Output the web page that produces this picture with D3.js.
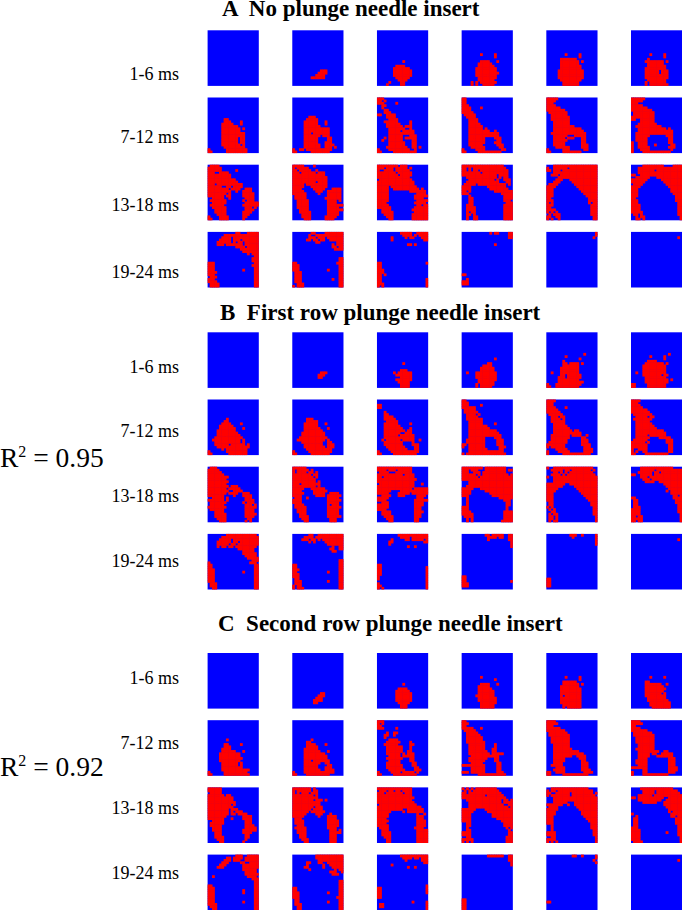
<!DOCTYPE html>
<html>
<head>
<meta charset="utf-8">
<script src="https://cdn.jsdelivr.net/npm/d3@7"></script>
<style>
  html, body { margin: 0; padding: 0; background: #fff; }
  svg { display: block; }
  text { font-family: "Liberation Serif", serif; fill: #000; white-space: pre; }
</style>
</head>
<body>
<svg id="chart" width="682" height="910"></svg>
<script>
// red cells of each map, "row:from-to,from-to" on a 22 x 24 grid, rows left out are all blue
var panelTitles = ["A  No plunge needle insert", "B  First row plunge needle insert", "C  Second row plunge needle insert"];
var timeLabels = ["1-6 ms", "7-12 ms", "13-18 ms", "19-24 ms"];
var fits = [null, "0.95", "0.92"];
var columns = d3.range(22);
var rows = d3.range(24);

var panelA = [
  "",
  "17:12-14 18:11-14 19:10-13 20:8-13",
  "13:11 15:8-11 16:7-13 17:7-14 18:7-14 19:7-14 20:8-13 21:9-12 22:5,10-11 23:4,10-11",
  "10:8,14 11:14 13:8-11,15 14:7-12 15:7-13 16:6-14 17:6-14 18:6-15 19:6-14 20:7-14 21:7-13 22:4,6,8-14 23:4,6,9-13",
  "10:8,14 11:14 12:6-12 13:6-13,15 14:6-13 15:6-14 16:6-14 17:5-15 18:5-15 19:5-15 20:5-15 21:6-14 22:7-13 23:7-13",
  "10:8,14 11:14 12:7 13:6-13,15 14:7-13 15:7-14 16:6-14 17:6-11,13-15 18:6-11,13-15 19:6-15 20:6-15 21:7-14 22:6,8-14 23:6,8-15",
  "9:7-8 10:7-9,14 11:6-10,14 12:6-12 13:6-13,15 14:6-13 15:6-15 16:6-15 17:6-12,14-15 18:6-12,14-15 19:6-12,14-15 20:6-13,15 21:7-15 22:0,8-16 23:0-1,8-16",
  "8:7-9 9:6-10 10:5-10,14 11:5-10,14 12:5-11 13:5-15 14:5-15 15:5-7,9-15 16:5-11,13-15 17:5-10,15-16 18:5-10,15-16 19:5-10,14-16 20:5-11,14-17 21:5-11,14-16,18 22:0,3-4,6-16 23:0-1,8-15",
  "0:0-2 1:0-1,3 2:0-2,8 3:2-3 4:2 5:3-4 6:3-5 7:0-1,4-7 8:4-7 9:5-8 10:3-8,14 11:4-9,14 12:4-10,12-14 13:5-11,14 14:5-9,11-15 15:5-15 16:5-10,14-16 17:3,5-10,12-16 18:2,5-10,15-16 19:5-11,15-16 20:5-11,15-16 21:4-12,15-16,18 22:0,5-13,16 23:0-1,7-16",
  "0:0-1 1:0-1 2:0-1 3:0-2 4:0-3,8 5:0-3 6:0-4 7:1-5 8:2-5 9:3-6 10:3-6 11:3-7 12:3-8 13:3-8,10 14:3-11,14 15:3-15 16:3-15 17:3-9,14-16 18:3-9,15-16 19:3-9,14-16 20:3-8,15-17 21:4-9,16-17 22:0,6-9,17-18 23:0-1,7-16",
  "0:0-4 1:0-3 2:0-2 3:0-3 4:0-5 5:0-7 6:1-8 7:2-8 8:2-9 9:2-9 10:3-9 11:3-9 12:3-11 13:3-14 14:3-15 15:2-16 16:3-8,12-16 17:3-7,9-11,15-16 18:3-8,15-16 19:3-7,15-16 20:3-7,15-17 21:4-9,15-17 22:0,7-9,16-17 23:0-1,7-14",
  "0:0-5 1:0-4 2:0-2 3:0-4 4:0-6 5:0-8 6:1-9 7:1-9 8:0-2,3-9 9:0-1,4-9 10:4-9 11:3-10 12:2-12 13:3-14,16 14:3-17 15:2-8,9-17 16:2-7,15-17 17:2-6,16-17 18:2-6,16-17 19:0,3-6,16-17 20:0,3-6,10,17-18 21:0,3-7,16-18 22:0,4-7,17 23:0,5-16",
  "0:1-4 1:0-5 2:0-5,12 3:0-2,5-8 4:0-9 5:0-9 6:0-11 7:0-12 8:0-2,4-14 9:0-5,8-9,11-14 10:0-8,10-13,16-18 11:0-9,12,15-18 12:0-7,9,15-19 13:0-6,8-9,15-19 14:2-6,9,16-19 15:1-7,15,17-19 16:2-7,16-21 17:1-6,15-21 18:2-7,16-18,20 19:3-7,16-19 20:3-7,15-18 21:4-7,15-17 22:0,5-8,15-16 23:0-1,5-8,15",
  "0:0-4,9 1:0,2-6 2:0-1,3-7,10 3:0-2,4-9,11-13 4:0-13 5:0-14 6:0-14 7:0-9,11-14 8:0-4,6-14 9:0-4,8-14 10:0-3,9-13,17-20 11:0-4,10-12,15-20 12:0-5,11,15-20 13:1-5,15-20 14:1-5,14-20 15:2-6,15-18,20 16:2-6,15-18 17:2-6,15-21 18:2-6,15-19 19:3-6,15-21 20:3-7,15-19 21:4-7,15-19 22:4-7,14-18 23:5-7,14-17",
  "0:0-8,10-12 1:0-2,4-6,8-12,14 2:0,3-6,8-13 3:0-7,9-14 4:0-8,10-14 5:0-13 6:1-14 7:0-15 8:0-15 9:0-4,6-16 10:0-4,7-17,19 11:0-4,14-20 12:0-4,17-20 13:0-4,16-21 14:0-4,16-19 15:0-4,17-21 16:0-3,16-20 17:0-4,17-18,20-21 18:0-5,16-21 19:2-5,15-21 20:2-6,16-21 21:3-6,15-21 22:4-6,15-21 23:5-6,15-21",
  "0:0-17 1:0-1,3,5-18 2:0-1,3,5-6,8-19 3:0-7,9-19 4:0-14,16-19 5:2-14,16,18-19 6:3-13,15,18-20 7:2-15,19-20 8:1-5,7-18,20 9:0-3,11-18 10:0-3,12-19 11:0-1,3,14-21 12:0-2,17-21 13:3,18-21 14:3-4,18-21 15:3-4,18-20 16:3-4,19-21 17:2-4,18-21 18:2-5,18-21 19:2-5,18-21 20:2,4-5,18-21 21:2-3,5,18-21 22:2,5-6,18-21 23:2,5-6,18-21",
  "0:3-21 1:0,3-8,10-21 2:0-1,3-5,7-21 3:3-21 4:2-4,6-21 5:5-21 6:4-6,10-21 7:3-5,11-21 8:1-4,12-21 9:0-3,13-21 10:0-2,14-21 11:0-2,15-21 12:0-2,16-21 13:0-2,17-21 14:0-1,18-21 15:0-2,18-21 16:0,2,18,20-21 17:0-2,19-21 18:0-1,19-21 19:0-3,19-21 20:0,2,4,19-21 21:1,3-5,19-21 22:0-1,4-5,20-21 23:0,2,5,20-21",
  "0:5-13,18-21 1:3-21 2:3-9,11-21 3:3-21 4:0-1,4-21 5:2-7,11-21 6:0-6,13-21 7:0-5,14-21 8:1-4,15-21 9:0-3,16-21 10:0-2,17-21 11:0-2,17-21 12:0-2,18-21 13:0-2,19-21 14:0-1,19-21 15:0-2,19-21 16:0-2,20-21 17:0-3,20-21 18:0-3,20-21 19:0-3,20-21 20:0-4,20-21 21:1-2,4,20-21 22:2,4-5,21 23:2-3,5,21",
  "0:12-13,17-21 1:7-21 2:6-9,11-21 3:5-9,11-13,15-21 4:4-9,11,13-14,16-21 5:4-6,8-14,16-21 6:12-15,17-21 7:14-21 8:15-21 9:17,19-21 10:20-21 11:19-21 12:19-21 13:0-2,20-21 14:0-2,19-21 15:0-2,20-21 16:0-2,15,20-21 17:0-3,20-21 18:0-2,20-21 19:1-3,20-21 20:0-2,20-21 21:0-3,20-21 22:1-4,20-21 23:1-4,20-21",
  "0:8-9,14-21 1:7,10-21 2:7-9,11-13,15-21 3:6-7,9-10,12-13,16-21 4:10-11,19-21 5:17,19-21 6:17-18,20-21 7:18-19,20-21 11:20-21 12:20-21 13:0-1,19-21 14:0-2,20-21 15:0-2,20-21 16:0-2,15,20-21 17:1-3,20-21 18:1-3,20-21 19:1-3,20-21 20:1-3,17,20-21 21:1-3,20-21 22:2-4,20-21 23:0,2-4,20-21",
  "0:10-14,17-21 1:11-14,16,18-21 2:6,12,14-15,19-21 3:6,20-21 5:13-14,16 13:0-1,21 14:0-1 15:0-1 16:0-2 17:0-2 18:0-1,3 19:0-1 20:0-1,21 21:0-1,21 22:0-2,21 23:0,2,21",
  "0:12,14-15,20-21 1:20-21 2:20-21 5:14 18:0-1 20:2 21:0-2 22:0-2",
  "0:21 1:21 2:20",
  "2:20"
];

var panelB = [
  "",
  "17:12-14 18:11-13 19:11-12",
  "13:11 16:10-12 17:7,9-14 18:8-14 19:10-14 20:8-14 21:9-13 22:10-13 23:10-13",
  "11:14 13:11-12 14:9-12 15:8-13 16:8-13 17:2,6-14 18:6-14 19:6-14 20:7-14 21:7-13 22:6,8-13 23:6,8-12",
  "9:16 10:8 11:14 12:7 13:7-8,10-13,15 14:7-13 15:6-13 16:6-13 17:2,6-13 18:6-7,9-14 19:5-7,9-14 20:5-13 21:5-15 22:0,4-14 23:0-1,4-13",
  "9:16 10:8,14 11:14 12:7-10 13:6-13,15 14:5-14 15:5-14 16:5-14 17:2,5-14 18:5-12,14-15 19:6-14 20:6-15,17 21:6-15 22:0-1,7-14 23:0-1,7-14",
  "8:8 9:7-8 10:6-9,14 11:5-10 12:5-11,15 13:4-11 14:4-12 15:4-13 16:3-14 17:2-13,15 18:3-13,15 19:3-8,10-15,17 20:4-17 21:6,8-16 22:0,8-16 23:0-1,9-16",
  "8:6-8 9:6-10 10:5-10,14 11:5-10 12:5-11,15 13:5-12 14:4-13 15:4-13 16:3-14 17:2-13,15 18:4-12,15-16 19:5-12,15-17 20:5-13,15-17 21:6-16 22:0,7-16 23:0-1,8-15",
  "2:0-1 3:0-1 5:3 6:3-4 7:3-6 8:3-7 9:4-8 10:3-8,14 11:3-9 12:3-10,14 13:3-11,13-14 14:3-9,12-14 15:3-8,10-15 16:3-15 17:2,4-9,11-15,18 18:3-10,15 19:3-10,15-17 20:4-11,16-17 21:5-12,16-17 22:0,6-17 23:0-1,7-16",
  "0:0-1 1:0-2 2:0-2,8 3:0-5 4:1-5 5:1-6 6:2-5,7 7:2-6 8:2-8 9:3-8 10:3-8,14 11:3-10 12:3-11 13:3-14 14:3-15 15:3-16 16:3-9,14-16 17:2-9,15-17 18:2-9,15-17 19:0-1,3-9,15-17 20:0,3-9,16-18 21:3-10,16-17 22:3-17 23:0,2-18",
  "0:0-3 1:0-2 2:0-2 3:0-3,8 4:0-4 5:0-5 6:1-6 7:2-4,6-7 8:2-5,7 9:2-7 10:3-7 11:3-8 12:3-9 13:3-10,12-13 14:3-14 15:2-9,11-14,17 16:2-9,15-16 17:2-8,15-17 18:1-8,15-17 19:0-7,15-18 20:0,2-7,16-18 21:4-8,16-19 22:0,5-9,16-19 23:0,7-18",
  "0:0-3 1:0-2 2:0-3 3:0-4 4:0-6 5:0-7 6:1-8 7:2-6,8-9 8:1-8 9:2-7 10:2-8 11:2-9 12:2-10 13:2-13 14:2-14 15:2-6,8-14 16:2-7,12-16 17:1-6,15-17 18:0-5,7,15-17 19:0-6,16-17 20:0-6,16-17 21:0,3-6,16-17 22:0,2,5-6,16-17 23:0-1,6-15",
  "0:1-3 1:0-4 2:0-5 3:0-6 4:0-8 5:0-7 6:0-8 7:0-7 8:0-8,10-12 9:0-7,9-13 10:0-8,11-14 11:0-7,9-12,15-17 12:0-6,11,15-18 13:2-6,8,16-18 14:0-6,8,16-19 15:1-7,15,17-19 16:1-6,16-18,20 17:0-7,16-20 18:1-6,16-19 19:3-6,16-19 20:3-7,16-20 21:3-7,16-19 22:4-7,17-18 23:5-7,16,18",
  "0:0-5 1:0,2-6,8 2:0,2-5,7-8,10 3:0-7,9-10 4:0-8,10 5:0-9 6:0-9,11 7:0-2,4-11 8:0-9,11 9:0-4,8-13 10:0-3,9-14 11:0-4,9-13,16-19 12:0-3,10-13,15-20 13:1-3,6,15-19 14:0-3,15-20 15:0-3,15-19 16:1-4,15,17-19 17:1-5,15-20 18:2-5,15-19 19:2-5,15-19 20:3-5,15-19 21:3-6,15-20 22:4-6,16-18 23:5-6,16-18",
  "0:0-14 1:0-3,5-7,9-14 2:1-4,8-14 3:0-10,12-15 4:0-1,3-15 5:0-16 6:0-15 7:1-15,19 8:0-15 9:0-14,16-21 10:0-5,10-21 11:0-4,9-13,15-21 12:2-5,9-11,17-20 13:0-4,17-19 14:0-3,16-21 15:2-4,16-19 16:0-4,16-19 17:0-4,16-18 18:0-3,16-18 19:2-5,16-19 20:2-5,16-18 21:3-6,16-18 22:4-6,16-17 23:5-6,16-17",
  "0:0-8,10-18 1:0-2,4-6,10-18,20-21 2:0-2,5-7,9-18 3:0-5,7,9-19,21 4:0-6,8-21 5:0-21 6:3-21 7:3-21 8:2-21 9:0-4,8-21 10:0-3,10-21 11:0-3,12-21 12:0-2,13-21 13:2,16-21 14:2,18-20 15:2,19-20 16:2,19-20 17:0-2,19 18:0-2,19 19:0-3,18-21 20:0-4,18-21 21:1-4,18-21 22:2,4,18-21 23:2,4,17-21",
  "0:0,3-19 1:2-6,8-9,11-18,20 2:3-4,6,8,10-19 3:2-5,7,9-20 4:0,3-21 5:3-21 6:3-21 7:0-7,10-21 8:0-6,12-21 9:0-4,13-21 10:0-3,14-21 11:0-2,15-21 12:0-2,16-21 13:0-2,17-21 14:0-2,18-21 15:1-2,19-21 16:1-2,19-21 17:0,2,20-21 18:1,3,20-21 19:2-3,20-21 20:1,3-4,20-21 21:1-2,4,21 22:1-2,4,21 23:1,3-4,21",
  "0:4-17 1:4-9,11-21 2:3-8,10-11,13-21 3:0-1,4-8,10-21 4:4-6,8-21 5:5-7,9-21 6:6-9,12-21 7:14-21 8:15-21 9:16-21 10:15,17-21 11:17-21 12:18-19,21 13:0-1,18-21 14:1-2,19-21 15:1-2,19-21 16:1-2,20-21 17:1-3,20-21 18:0-3,20-21 19:0-3,20-21 20:0-3,21 21:0-1,3-4,21 22:0-4,21 23:0-1,3-4,21",
  "0:8-20 1:6-21 2:5-9,11-21 3:4-9,11-12,14-21 4:4-8,10-11,13-21 5:4,6-7,9-10,12-20 6:13-19 7:15-19 8:15-20 9:16-20 10:17-21 11:19-21 12:0,18-20 13:0-1,20-21 14:0-1,20-21 15:0-2,20-21 16:0-2,15,20-21 17:0-2,20-21 18:0-2,20-21 19:0-2,20-21 20:0-2,20-21 21:1-3,20-21 22:1-3,20-21 23:2-3,20-21",
  "0:7-8,11-21 1:5-8,10-21 2:4-6,8-9,11,13-21 3:7,9,14-21 4:15-21 5:17,20-21 6:16-17,20-21 7:17-18 11:20-21 12:20-21 13:0-1,20-21 14:0-1,20-21 15:0-2,20-21 16:0-1,15,20-21 17:0-2,20-21 18:0-2,20-21 19:1-2,20-21 20:1-3,15,20-21 21:1-3,20-21 22:0,2-3,20-21 23:0,2-4,20-21",
  "0:9-21 1:10-13,15-21 2:6,12-13,15-19,21 3:5-6,20-21 4:5 5:13,16 13:0-1 14:0-1,21 15:0-1,21 16:0-1,21 17:0-1,21 18:0,21 19:0,21 20:21 21:0,21 22:0-1,21 23:0,2,21",
  "0:10-11,13-17,20-21 1:11-14,16-17,20-21 2:11,20-21 3:21 4:21 5:21 18:0-1 19:0-1 20:0-1,21 21:0-2 22:0-2",
  "0:10-12,15,21 1:11,21 2:21 3:21 4:21 19:0-1 20:0-1 21:0-1 22:0-1",
  "2:20"
];

var panelC = [
  "",
  "17:12-13 18:11-13 19:10-12 20:9-12 21:9-10",
  "13:11 15:9-12 16:8-13 17:8-14 18:8-14 19:8-14 20:8-14 21:9-13 22:10-12 23:10-12",
  "10:8 11:14 13:8-11,15 14:7-11 15:7-12 16:7-13 17:7-13 18:6-13 19:7-14 20:7-14 21:8-14 22:8-13 23:8-13",
  "10:8,14 11:14 12:7-12 13:7-13,15 14:6-13 15:6-14 16:6-14 17:6-14 18:6,8-14 19:6-14 20:6-14 21:6-14 22:7-14 23:7,9-14",
  "10:8,14 12:6-7 13:6-12,15 14:6-13 15:6-14 16:6-13 17:6-12,14 18:6-14 19:7-14 20:7-15 21:8-16 22:8-16 23:9-16",
  "8:8 10:7-8,14 11:7-9 12:6-9 13:6-11,15 14:5-13 15:5-13 16:5-14 17:5-13 18:6-12,14 19:6-12,14 20:6-14 21:6-17 22:0,7-16 23:0-1,7-17",
  "8:8 9:6-7 10:6-9,14 11:6-10 12:5-10 13:5-11,15 14:5-13 15:5-14 16:5-14 17:5-7,9-15 18:5-11,14-15 19:5-10,15-16 20:5-10,14-16 21:5-11,14-17 22:0,5-17 23:0-1,6-15",
  "0:0-2 1:0,2 2:0-1 3:0-2,8 5:4,7-8 6:3-4,7 7:3 8:5-8 9:4-9,14 10:3-8,14-15 11:4-10,14 12:4-10,14 13:4-10,13-14 14:4-9,11,13-15 15:5-9,11-15 16:4-10,14-15 17:5-9,14-15 18:4-9,15-16 19:4-10,15-16 20:4-10,16-17 21:5-11,16-18 22:0,6-9,11-15,17 23:0-1,7-16",
  "0:0-1 1:0-2 2:0-1 3:0-4,8 4:1-5 5:2-6 6:2-7 7:2-8 8:2-8 9:2-9 10:3-9,14 11:3-9,14 12:3-9,13-14 13:3-10,13-14 14:3-11,13-17 15:4-15 16:3-10,14-15 17:3-9,14-15 18:4-8,15-16 19:0-2,3-9,15-16 20:4-9,15-16 21:4-9,15-16 22:0-2,4-9,15-17 23:7-18",
  "0:0-3 1:0-4 2:0-2 3:0-5 4:0-7 5:1-8 6:1-9 7:2-9 8:2-9 9:2-9 10:3-9 11:3-9 12:3-10 13:3-13 14:3-15 15:3-10,13-16 16:3-7,14-16 17:3-7,15-16 18:3-6,15-17 19:2-6,15-17 20:4-7,15-17 21:3-7,15-18 22:0-1,4-7,16-19 23:0-1,7-17",
  "0:0-3 1:0-4 2:0-1 3:0-3 4:0-6 5:1-8 6:1-9 7:2-9 8:2-9 9:2-9 10:3-9 11:3-9 12:2-9 13:3-11,14-15 14:3-7,9-10,13-17 15:3-7,11-17 16:3-6,16-18 17:2-6,16-18 18:2-6,16-18 19:3-6,16-18 20:0-6,16-19 21:5-6,16-19 22:0,5-6,16-18 23:0,5-15",
  "0:0-5 1:0-5 2:1-5 3:0-6,8-9 4:0-10 5:0-10 6:0-11 7:0-9,11 8:0-10 9:0-8,10-12 10:0-8,10,12-14 11:0-8,10-11,13-16 12:0-7,15-18 13:0-6,10,15-18 14:2-6,16-18 15:1-6,16-18 16:1-5,16-19 17:2-5,16-20 18:2-5,15-20 19:3-5,15-18 20:3-5,16-17 21:3-6,16-17 22:4-6,16 23:5-6,15",
  "0:0-7,9 1:0,2-7,9-10 2:0,2,4-6,8-10 3:0-8,10 4:0-10 5:0-8,10-12,14 6:0-11 7:0-11 8:0-8,10-12 9:0-7,9-12 10:0-6,8-13 11:0-5,10-12,16 12:0-4,11,15-18 13:1-3,15-18 14:1-4,15-19 15:1-4,15-19 16:2-4,15-19 17:1-5,15-18 18:2-5,16-18,20 19:2-5,16-20 20:3-5,16-18 21:3-5,16-18 22:4-6,16-18 23:5-6,16-18",
  "0:0-14 1:1-3,5-6,8-9,11-14 2:0-2,4-10,12-14 3:0-14 4:0-15 5:0-14 6:0-15 7:1-16 8:0-18 9:0-10,13-19 10:0-5,11,13-19 11:0-4,17,20 12:0-4,17-19 13:0-3,17-19 14:0-4,17-20 15:0-3,17-20 16:0-4,17-20 17:1-4,16-19 18:2-4,17-21 19:2-5,17-21 20:2-5,17-21 21:3-5,17-21 22:4-5,17-21 23:4-5,17-21",
  "0:0,2,4,6-14 1:1,3,5-15 2:0-1,3-16 3:0-9,11-17 4:0-18 5:2-16,18-19,21 6:3-16,18-21 7:3-17,20-21 8:3-19,21 9:0-5,10-21 10:0-4,11-21 11:0-3,13-21 12:0-3,13-21 13:0-3,15-21 14:0-3,17-21 15:2-3,18-21 16:2-3,18-21 17:2,19,21 18:2-3,20 19:0-3,20-21 20:0-3,20-21 21:2-3,19-21 22:0-4,19-21 23:0,2,4,19-21",
  "0:2-17 1:0,2-3,5-19 2:0-1,4-9,11-19,21 3:0,2-9,11-20 4:3-21 5:3-21 6:3-8,12-21 7:0-6,9,12-21 8:1-4,13-21 9:0-4,14-21 10:0-3,15-21 11:0-3,15-21 12:0-2,16-21 13:0-2,17-21 14:0-2,18-21 15:0-2,19-21 16:2,19-21 17:2,19-21 18:2,20-21 19:0-3,20-21 20:0-3,20-21 21:2-3,21 22:0-3,21 23:0,2,4,21",
  "0:4-17 1:5-9,11-19 2:5-9,11-20 3:3-8,10-21 4:0-1,3-13,16-21 5:3-12,15-21 6:5-10,14-21 7:14-21 8:15-21 9:16-21 10:16,18-21 11:0,17-21 12:2,17-18,20-21 13:1-2,19-21 14:1-2,19-21 15:1-2,19-21 16:1-2,20-21 17:0-2,20-21 18:0-3,20-21 19:0-3,15,20-21 20:0-3,20-21 21:0-3,21 22:0-3,21 23:1-4,21",
  "0:12-14,17-21 1:8-9,11-14,16-21 2:7-9,11-13,16-21 3:6-8,14-15,18-21 4:5-7,15-21 5:4-6,15-21 6:15-20 7:16-20 8:16-21 9:2,17-20 10:19-21 11:20-21 12:20-21 13:0-1,20-21 14:0-2,20-21 15:0-2,15,20-21 16:0-2,15,20-21 17:0-2,20-21 18:0-2,20-21 19:0-2,20-21 20:0-2,15,20-21 21:0-3,20-21 22:1-3,20-21 23:2-3,20-21",
  "0:10-21 1:10-21 2:11-21 3:6-7,11-12,15-21 4:6,13,16-21 5:5-6,13,17-21 6:7,18,20-21 7:16-18,21 8:17-19 11:20-21 12:20-21 13:20-21 14:0-1,20-21 15:0-1,20-21 16:0-2,15,20-21 17:0-2,20-21 18:0-2,19-21 19:1-2,20-21 20:1-2,15,20-21 21:1-3,20-21 22:2-3,20-21 23:2-3,20-21",
  "0:10-21 1:11-14,16-17,19-21 2:12,19-21 3:20-21 4:6 5:13,16 13:21 14:0-1,21 15:0-1,21 16:0-1,21 17:0-1 18:0-1 20:15,21 21:1-2,21 22:1-2,21 23:21",
  "0:11-17,20-21 1:20-21 2:20-21 3:21 4:21 19:0-1 20:0-1 21:0-1 22:0-1 23:0-1",
  "0:11-12,15,21 1:21 2:20 3:21 20:0-1",
  "2:20"
];

var panels = [panelA, panelB, panelC];

// "3:1-2,5" -> [{row: 3, col: 1}, {row: 3, col: 2}, {row: 3, col: 5}]
function parseCells(str) {
  var cells = [];
  str.split(" ").filter(Boolean).forEach(function(token) {
    var parts = token.split(":");
    parts[1].split(",").forEach(function(run) {
      var ends = run.split("-").map(Number);
      d3.range(ends[0], (ends.length > 1 ? ends[1] : ends[0]) + 1).forEach(function(c) {
        cells.push({row: +parts[0], col: c});
      });
    });
  });
  return cells;
}

var svg = d3.select("#chart");

var defs = svg.append("defs");
defs.append("filter").attr("id", "soft")
    .attr("color-interpolation-filters", "sRGB")
    .attr("x", "-5%").attr("y", "-5%").attr("width", "110%").attr("height", "110%")
  .append("feGaussianBlur").attr("stdDeviation", 0.35);

var panelTop = [30.3, 332.3, 653];
var titleBase = [15.5, 320, 631];
var titleX = [222, 220, 218];
var fitBase = [null, 467, 776];
// centre line of each time label, they drift against the maps in the original
var labelY = [[74, 137, 205, 272], [367, 431, 496, 561], [678, 743, 808, 873]];
var mapW = 51.2, mapH = 55.6;
var bleed = 0.25; // cells overlap a little so no seams show between them

var xCol = d3.scaleLinear().domain([0, 5]).range([207.6, 631]);
var yRow = d3.scaleLinear().domain([0, 3]).range([0, 201.6]);
var xCell = d3.scaleBand().domain(columns).range([0, mapW]);
var yCell = d3.scaleBand().domain(rows).range([0, mapH]);

panels.forEach(function(maps, p) {
  var g = svg.append("g").attr("transform", "translate(0," + panelTop[p] + ")");

  svg.append("text")
    .attr("x", titleX[p]).attr("y", titleBase[p])
    .attr("font-size", 23).attr("font-weight", "bold")
    .text(panelTitles[p]);

  svg.selectAll("text.time" + p).data(timeLabels).join("text")
    .attr("class", "time" + p)
    .attr("x", 179)
    .attr("y", function(d, i) { return labelY[p][i] + 5.5; })
    .attr("text-anchor", "end")
    .attr("font-size", 18)
    .text(function(d) { return d; });

  if (fits[p]) {
    var t = svg.append("text").attr("x", 0).attr("y", fitBase[p]).attr("font-size", 27.5);
    t.append("tspan").text("R");
    t.append("tspan").attr("font-size", 16).attr("dy", -10).text("2");
    t.append("tspan").attr("dy", 10).text(" = " + fits[p]);
  }

  var map = g.selectAll("g.map").data(maps).join("g")
    .attr("class", "map")
    .attr("filter", "url(#soft)")
    .attr("transform", function(d, i) {
      return "translate(" + xCol(i % 6) + "," + yRow(Math.floor(i / 6)) + ")";
    });

  map.append("rect")
    .attr("width", mapW).attr("height", mapH)
    .attr("fill", "#0000ff");

  map.selectAll("rect.cell").data(function(d) { return parseCells(d); }).join("rect")
    .attr("class", "cell")
    .attr("x", function(d) { return Math.max(0, xCell(d.col) - bleed); })
    .attr("y", function(d) { return Math.max(0, yCell(d.row) - bleed); })
    .attr("width", function(d) { return Math.min(xCell.bandwidth() + 2 * bleed, mapW - xCell(d.col) + bleed); })
    .attr("height", function(d) { return Math.min(yCell.bandwidth() + 2 * bleed, mapH - yCell(d.row) + bleed); })
    .attr("fill", "#ff0000");
});
</script>
</body>
</html>
